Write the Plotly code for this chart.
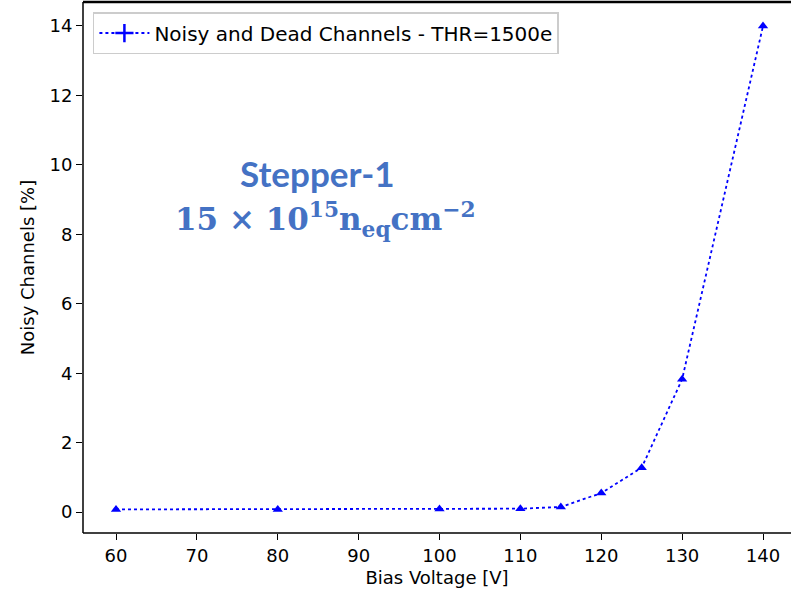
import plotly.graph_objects as go

voltage = [60, 80, 100, 110, 115, 120, 125, 130, 140]
noisy_pct = [0.08, 0.08, 0.09, 0.10, 0.15, 0.55, 1.28, 3.83, 14.0]
x_ticks = [60, 70, 80, 90, 100, 110, 120, 130, 140]
y_ticks = [0, 2, 4, 6, 8, 10, 12, 14]
legend_name = "Noisy and Dead Channels - THR=1500e"

fig = go.Figure()
fig.add_trace(go.Scatter(
    x=voltage, y=noisy_pct, mode="lines+markers",
    line=dict(color="#0000ff", width=1.8, dash="dot"),
    marker=dict(symbol="triangle-up", size=9, color="#0000ff"),
    showlegend=False,
))
fig.add_trace(go.Scatter(
    x=[None], y=[None], mode="lines+markers", name=legend_name,
    line=dict(color="#0000ff", width=2, dash="dot"),
    marker=dict(symbol="cross-thin-open", size=13, line=dict(color="#0000ff", width=2.5)),
))

fig.add_annotation(
    x=0.331, y=0.678, xref="paper", yref="paper", showarrow=False,
    xanchor="center", yanchor="middle",
    text="<b>Stepper-1</b>",
    font=dict(family="Lato", size=35, color="#4472C4"),
)
fig.add_annotation(
    x=0.342, y=0.59, xref="paper", yref="paper", showarrow=False,
    xanchor="center", yanchor="middle",
    text="<b>15 × 10<sup>15</sup>n<sub>eq</sub>cm<sup>−2</sup></b>",
    font=dict(family="DejaVu Serif", size=31, color="#4472C4"),
)

# spines: left, bottom, top (right spine is cropped off in the reference)
for x0, y0, x1, y1, w in [(0, 0, 0, 1, 1.5), (0, 0, 1, 0, 1.5), (0, 1, 1, 1, 2.5)]:
    fig.add_shape(type="line", xref="paper", yref="paper", x0=x0, y0=y0, x1=x1, y1=y1,
                  line=dict(color="black", width=w), layer="above")

axis_common = dict(
    showgrid=False, zeroline=False, showline=False,
    ticks="outside", ticklen=6, tickwidth=1.3, tickcolor="black", automargin=False,
    tickfont=dict(family="DejaVu Sans", size=18, color="black"),
)
fig.update_xaxes(
    **axis_common, range=[55.92, 143.46], tickvals=x_ticks,
    title=dict(text="Bias Voltage [V]", font=dict(family="DejaVu Sans", size=18, color="black"), standoff=6),
)
fig.update_yaxes(
    **axis_common, range=[-0.6, 14.69], tickvals=y_ticks,
    title=dict(text="Noisy Channels [%]", font=dict(family="DejaVu Sans", size=18, color="black"), standoff=10),
)
fig.update_layout(
    width=791, height=597,
    margin=dict(l=83, r=0, t=2, b=64),
    plot_bgcolor="white", paper_bgcolor="white",
    legend=dict(
        x=0.014, y=0.981, xanchor="left", yanchor="top",
        bgcolor="white", bordercolor="#cccccc", borderwidth=1.5,
        itemwidth=50,
        font=dict(family="DejaVu Sans", size=20, color="black"),
    ),
)
fig.write_html("out.html", config={"displayModeBar": False},
               post_script="document.body.style.margin='0';")
